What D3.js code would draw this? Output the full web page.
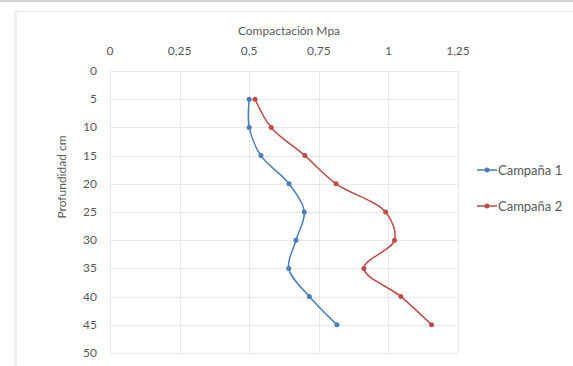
<!DOCTYPE html>
<html lang="es">
<head>
<meta charset="UTF-8">
<script src="https://cdn.jsdelivr.net/npm/d3@7/dist/d3.min.js"></script>
<style>
  * { margin: 0; padding: 0; }
  body { background: #fff; }
  text { font-family: Lato, "Open Sans", sans-serif; fill: #595959; }
</style>
<title>Compactación</title>
</head>
<body>
<script>
  const width = 573, height = 366;

  // depth (cm) and compaction (MPa)
  const depths = [5, 10, 15, 20, 25, 30, 35, 40, 45];
  const campana1 = [0.5, 0.5, 0.542, 0.643, 0.698, 0.668, 0.642, 0.716, 0.815];
  const campana2 = [0.521, 0.579, 0.70, 0.812, 0.99, 1.022, 0.912, 1.045, 1.155];
  const xTicks = [0, 0.25, 0.5, 0.75, 1, 1.25];
  const yTicks = [0, 5, 10, 15, 20, 25, 30, 35, 40, 45, 50];
  const seriesNames = ["Campaña 1", "Campaña 2"];
  const colors = ["#4a7ebb", "#be4b48"];

  const fmt = d => String(d).replace(".", ",");

  const x = d3.scaleLinear().domain([0, 1.25]).range([110, 458]);
  const y = d3.scaleLinear().domain([0, 50]).range([71, 353]);

  const svg = d3.select("body").append("svg")
    .attr("width", width).attr("height", height);

  // page line and chart frame
  svg.append("rect").attr("x", 0).attr("y", 0).attr("width", width).attr("height", 2).attr("fill", "#d4d4d4");
  svg.append("rect").attr("x", 14.5).attr("y", 11.5).attr("width", width).attr("height", height)
    .attr("fill", "none").attr("stroke", "#e6e6e6").attr("stroke-width", 1);
  svg.append("rect").attr("x", 14).attr("y", 12).attr("width", 3).attr("height", height)
    .attr("fill", "#f0f0f0");

  // grid
  svg.append("g").selectAll("line").data(xTicks).join("line")
    .attr("x1", d => Math.round(x(d)) + 0.5).attr("x2", d => Math.round(x(d)) + 0.5)
    .attr("y1", y(0)).attr("y2", y(50))
    .attr("stroke", "#e8e8e8");
  svg.append("g").selectAll("line").data(yTicks).join("line")
    .attr("x1", x(0)).attr("x2", x(1.25))
    .attr("y1", d => Math.round(y(d)) + 0.5).attr("y2", d => Math.round(y(d)) + 0.5)
    .attr("stroke", "#e8e8e8");

  // tick labels
  svg.append("g").selectAll("text").data(xTicks).join("text")
    .attr("x", d => x(d)).attr("y", 55)
    .attr("text-anchor", "middle").style("font-size", "12px")
    .text(fmt);
  svg.append("g").selectAll("text").data(yTicks).join("text")
    .attr("x", 97).attr("y", d => y(d) + 4)
    .attr("text-anchor", "end").style("font-size", "12px")
    .text(d => d);

  // axis titles
  svg.append("text").attr("x", 289).attr("y", 35)
    .attr("text-anchor", "middle").style("font-size", "12px")
    .text("Compactación Mpa");
  svg.append("text")
    .attr("transform", "translate(66,177) rotate(-90)")
    .attr("text-anchor", "middle").style("font-size", "12px")
    .text("Profundidad cm");

  // series
  const line = d3.line()
    .x(d => x(d[0])).y(d => y(d[1]))
    .curve(d3.curveCatmullRom.alpha(0.5));

  [campana1, campana2].forEach((vals, i) => {
    const pts = vals.map((v, j) => [v, depths[j]]);
    svg.append("path").datum(pts)
      .attr("d", line).attr("fill", "none")
      .attr("stroke", colors[i]).attr("stroke-width", 1.5);
    svg.append("g").selectAll("circle").data(pts).join("circle")
      .attr("cx", d => x(d[0])).attr("cy", d => y(d[1])).attr("r", 2.5)
      .attr("fill", colors[i]);
  });

  // legend
  const legend = svg.append("g").selectAll("g").data(seriesNames).join("g")
    .attr("transform", (d, i) => `translate(477,${170 + i * 36})`);
  legend.append("line").attr("x1", 0).attr("x2", 20).attr("y1", 0).attr("y2", 0)
    .attr("stroke", (d, i) => colors[i]).attr("stroke-width", 1.5);
  legend.append("circle").attr("cx", 10).attr("cy", 0).attr("r", 2.5)
    .attr("fill", (d, i) => colors[i]);
  legend.append("text").attr("x", 21).attr("y", 4.5)
    .style("font-size", "13px").text(d => d);
</script>
</body>
</html>
